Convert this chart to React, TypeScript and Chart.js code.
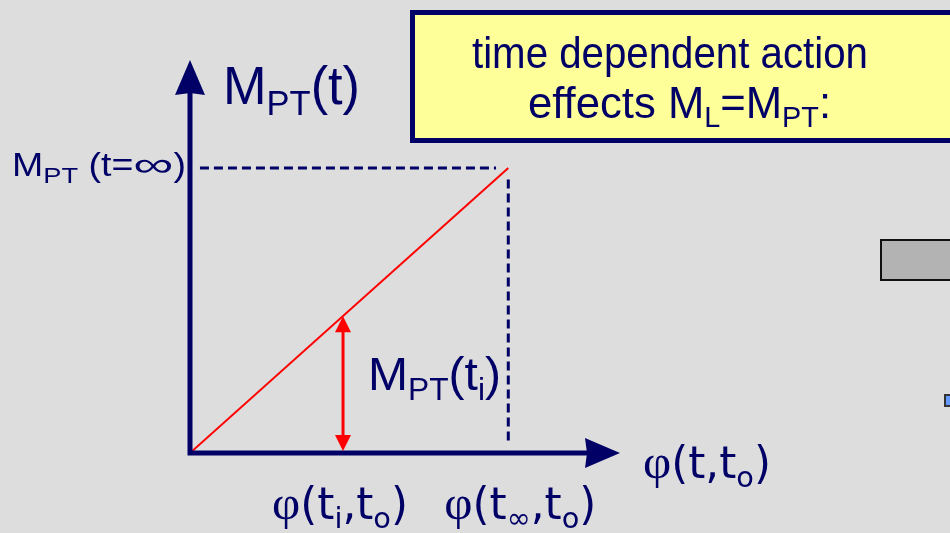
import React, { useEffect, useRef } from 'react';
import { Chart, registerables } from 'chart.js';

Chart.register(...registerables);

// ---- data (chart units) ----
const phiPoints = [0, 1.0, 2.08]; // origin, φ(ti,to), φ(t∞,to)
const mPoints = [0, 0.48, 1.0]; // 0, M_PT(ti), M_PT(t=∞)
const phiAxisMax = 2.81;
const mAxisMax = 1.379;
const hGuidePhi = [0.065, 2.0]; // horizontal dashed guide at M_PT(t=∞)
const vGuideM = [0.96, 0.03]; // vertical dashed guide at φ(t∞,to)

type Seg = { t: string; sub?: boolean; serif?: boolean; sx?: number };
const yAxisTitle: Seg[] = [{ t: 'M' }, { t: 'PT', sub: true }, { t: '(t)' }];
const yTickLabel: Seg[] = [{ t: 'M' }, { t: 'PT', sub: true, sx: 1.1 }, { t: ' (t=' }, { t: '∞', sx: 1.5 }, { t: ')' }];
const arrowLabel: Seg[] = [{ t: 'M' }, { t: 'PT', sub: true }, { t: '(t' }, { t: 'i', sub: true }, { t: ')' }];
const xAxisTitle: Seg[] = [{ t: 'φ', serif: true }, { t: '(t,t' }, { t: 'o', sub: true }, { t: ')' }];
const xTickLabels: Seg[][] = [
  [{ t: 'φ', serif: true }, { t: '(t' }, { t: 'i', sub: true }, { t: ',t' }, { t: 'o', sub: true }, { t: ')' }],
  [{ t: 'φ', serif: true }, { t: '(t' }, { t: '∞', sub: true }, { t: ',t' }, { t: 'o', sub: true }, { t: ')' }],
];
const boxLine1: Seg[] = [{ t: 'time dependent action' }];
const boxLine2: Seg[] = [{ t: 'effects M' }, { t: 'L', sub: true }, { t: '=M' }, { t: 'PT', sub: true }, { t: ':' }];

const NAVY = '#000066';
const RED = '#ff0000';
const BG = '#dddddd';
const SANS = '"Liberation Sans", Arial, sans-serif';
const SANS2 = '"DejaVu Sans", Verdana, sans-serif';
const SERIF = '"Liberation Serif", "Times New Roman", serif';

function segFont(s: Seg, size: number, family: string) {
  let sz = s.sub ? size * 0.66 : size;
  if (s.serif) sz = size * 1.12;
  return `${sz}px ${s.serif ? SERIF : family}`;
}

function drawRich(
  ctx: CanvasRenderingContext2D,
  segs: Seg[],
  x: number,
  y: number,
  size: number,
  family: string,
  width: number,
  align: 'left' | 'center' = 'left'
) {
  ctx.save();
  ctx.textBaseline = 'alphabetic';
  ctx.textAlign = 'left';
  let natural = 0;
  for (const s of segs) {
    ctx.font = segFont(s, size, family);
    natural += ctx.measureText(s.t).width * (s.sx || 1);
  }
  const sx = width / natural;
  const x0 = align === 'center' ? x - width / 2 : x;
  ctx.translate(x0, y);
  ctx.scale(sx, 1);
  ctx.fillStyle = NAVY;
  let cx = 0;
  for (const s of segs) {
    ctx.font = segFont(s, size, family);
    const k = s.sx || 1;
    ctx.save();
    ctx.translate(cx, s.sub ? size * 0.21 : 0);
    ctx.scale(k, 1);
    ctx.fillText(s.t, 0, 0);
    ctx.restore();
    cx += ctx.measureText(s.t).width * k;
  }
  ctx.restore();
}

function arrowHead(ctx: CanvasRenderingContext2D, tipX: number, tipY: number, dx: number, dy: number, len: number, half: number, notch: number) {
  const px = -dy, py = dx;
  const bx = tipX - dx * len, by = tipY - dy * len;
  ctx.beginPath();
  ctx.moveTo(tipX, tipY);
  ctx.lineTo(bx + px * half, by + py * half);
  ctx.lineTo(bx + dx * notch, by + dy * notch);
  ctx.lineTo(bx - px * half, by - py * half);
  ctx.closePath();
  ctx.fill();
}

const diagramPlugin = {
  id: 'diagram',
  beforeDraw(chart: any) {
    const ctx: CanvasRenderingContext2D = chart.ctx;
    ctx.save();
    ctx.fillStyle = BG;
    ctx.fillRect(0, 0, chart.width, chart.height);
    ctx.restore();
  },
  afterDatasetsDraw(chart: any) {
    const ctx: CanvasRenderingContext2D = chart.ctx;
    const xs = chart.scales.x;
    const ys = chart.scales.y;
    const ox = xs.getPixelForValue(0);
    const oy = ys.getPixelForValue(0);
    const area = chart.chartArea;

    ctx.save();
    // axes
    ctx.strokeStyle = NAVY;
    ctx.fillStyle = NAVY;
    ctx.lineWidth = 5;
    ctx.lineCap = 'butt';
    ctx.beginPath();
    ctx.moveTo(ox, oy + 2.5);
    ctx.lineTo(ox, area.top + 33);
    ctx.moveTo(ox - 2.5, oy);
    ctx.lineTo(area.right - 33, oy);
    ctx.stroke();
    arrowHead(ctx, ox, area.top, 0, -1, 35, 15, 2);
    arrowHead(ctx, area.right, oy, 1, 0, 35, 15, 2);

    // red double arrow at φ(ti,to)
    const ax = xs.getPixelForValue(phiPoints[1]);
    const aTop = ys.getPixelForValue(mPoints[1]);
    ctx.strokeStyle = RED;
    ctx.fillStyle = RED;
    ctx.lineWidth = 3;
    ctx.beginPath();
    ctx.moveTo(ax, aTop + 12);
    ctx.lineTo(ax, oy - 12);
    ctx.stroke();
    arrowHead(ctx, ax, aTop, 0, -1, 16, 8, 0);
    arrowHead(ctx, ax, oy - 2, 0, 1, 16, 8, 0);
    ctx.restore();

    // labels
    drawRich(ctx, yAxisTitle, ox + 33, area.top + 44, 54, SANS, 137);
    drawRich(ctx, yTickLabel, 12, ys.getPixelForValue(mPoints[2]) + 8, 34, SANS, 174);
    drawRich(ctx, arrowLabel, ax + 25, 390, 47, SANS, 133);
    drawRich(ctx, xAxisTitle, area.right + 23, oy + 25, 44, SANS2, 128);
    drawRich(ctx, xTickLabels[0], xs.getPixelForValue(phiPoints[1]) - 3, 519, 44, SANS2, 136, 'center');
    drawRich(ctx, xTickLabels[1], xs.getPixelForValue(phiPoints[2]) + 12, 519, 44, SANS2, 152, 'center');

    // yellow title box
    ctx.save();
    ctx.fillStyle = '#ffff99';
    ctx.fillRect(412, 12, 600, 129);
    ctx.strokeStyle = NAVY;
    ctx.lineWidth = 5;
    ctx.strokeRect(412.5, 12.5, 600, 128);
    ctx.restore();
    drawRich(ctx, boxLine1, 670, 68, 44, SANS, 396, 'center');
    drawRich(ctx, boxLine2, 528, 118, 44, SANS, 303);

    // partial shapes at right edge
    ctx.save();
    ctx.fillStyle = '#b3b3b3';
    ctx.fillRect(881, 240, 100, 40);
    ctx.strokeStyle = '#111111';
    ctx.lineWidth = 2;
    ctx.strokeRect(881, 240, 100, 40);
    ctx.fillStyle = '#6699ff';
    ctx.fillRect(945, 395, 20, 11);
    ctx.strokeStyle = '#333333';
    ctx.strokeRect(945, 395, 20, 11);
    ctx.restore();
  },
};

export default function App() {
  const ref = useRef<HTMLCanvasElement>(null);
  useEffect(() => {
    document.body.style.margin = '0';
    document.body.style.background = BG;
    const canvas = ref.current!;
    const chart = new Chart(canvas, {
      type: 'scatter',
      data: {
        datasets: [
          {
            label: 'M_PT',
            data: [
              { x: phiPoints[0], y: mPoints[0] },
              { x: phiPoints[2], y: mPoints[2] },
            ],
            showLine: true,
            borderColor: RED,
            borderWidth: 2,
            pointRadius: 0,
          },
          {
            label: 'guide-h',
            data: [
              { x: hGuidePhi[0], y: mPoints[2] },
              { x: hGuidePhi[1], y: mPoints[2] },
            ],
            showLine: true,
            borderColor: NAVY,
            borderWidth: 3,
            borderDash: [9, 5],
            pointRadius: 0,
          },
          {
            label: 'guide-v',
            data: [
              { x: phiPoints[2], y: vGuideM[0] },
              { x: phiPoints[2], y: vGuideM[1] },
            ],
            showLine: true,
            borderColor: NAVY,
            borderWidth: 3,
            borderDash: [9, 5],
            pointRadius: 0,
          },
        ],
      },
      options: {
        responsive: false,
        animation: false,
        devicePixelRatio: 1,
        layout: { padding: { left: 190, right: 330, top: 60, bottom: 80 } },
        scales: {
          x: { type: 'linear', min: 0, max: phiAxisMax, display: false },
          y: { type: 'linear', min: 0, max: mAxisMax, display: false },
        },
        plugins: { legend: { display: false }, tooltip: { enabled: false } },
        events: [],
      },
      plugins: [diagramPlugin],
    });
    return () => chart.destroy();
  }, []);
  return (
    <div style={{ position: 'absolute', left: 0, top: 0, width: 950, height: 533, overflow: 'hidden' }}>
      <canvas ref={ref} width={950} height={533} style={{ display: 'block' }} />
    </div>
  );
}
